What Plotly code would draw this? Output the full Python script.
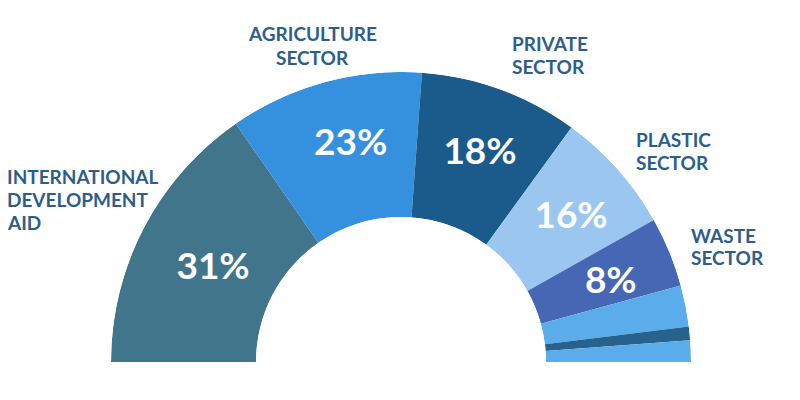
import plotly.graph_objects as go

# Categories (outer labels) and slice shares (% of the half ring)
categories = ["INTERNATIONAL DEVELOPMENT AID", "AGRICULTURE SECTOR", "PRIVATE SECTOR",
              "PLASTIC SECTOR", "WASTE SECTOR", "OTHER A", "OTHER B", "OTHER C"]
label_lines = [["INTERNATIONAL", "DEVELOPMENT", "AID"], ["AGRICULTURE", "SECTOR"],
               ["PRIVATE", "SECTOR"], ["PLASTIC", "SECTOR"], ["WASTE", "SECTOR"]]
shares = [30.7, 21.6, 17.7, 13.7, 7.8, 4.6, 1.5, 2.4]
pct_labels = ["31%", "23%", "18%", "16%", "8%"]
colors = ["#41758C", "#3591DD", "#1A5B8C", "#9AC6F0", "#4567B4", "#5AACEA", "#27628F", "#5AACEA"]

total = sum(shares)
widths = [s / total * 180 for s in shares]
centers = []
acc = 0
for w in widths:
    centers.append(acc + w / 2)
    acc += w

# label styling: radial position and small angular nudge of the percent labels
pct_r = [0.445, 0.53, 0.53, 0.535, 0.545]
pct_dtheta = [-1.4, 2.2, 0.8, 1.5, 1.8]

W, H = 800, 400
ML, MR, MT, MB = 103, 117, 64, 46
PW, PH = W - ML - MR, H - MT - MB

fig = go.Figure()
fig.add_trace(go.Barpolar(
    r=[1] * len(shares), theta=centers, width=widths,
    marker=dict(color=colors, line=dict(width=0)),
    hovertext=categories, hoverinfo="text",
    showlegend=False,
))
fig.add_trace(go.Scatterpolar(
    r=pct_r, theta=[c + d for c, d in zip(centers, pct_dtheta)],
    mode="text", text=pct_labels,
    textfont=dict(family="Lato", size=37, color="white", weight="bold"),
    textposition="middle center", hoverinfo="skip", showlegend=False,
))

fig.update_layout(
    width=W, height=H,
    margin=dict(l=ML, r=MR, t=MT, b=MB, pad=0),
    paper_bgcolor="white",
    polar=dict(
        sector=[0, 180], hole=0.5, bgcolor="white",
        domain=dict(x=[0, 1], y=[0, 1]),
        radialaxis=dict(range=[0, 1], visible=False, showgrid=False),
        angularaxis=dict(rotation=180, direction="clockwise", visible=False, showgrid=False),
    ),
)

lab_font = dict(family="Lato", size=19, color="#2D5E8B", weight="bold")
LINE = 23
# Outer category labels: (x, first-line y, alignment) in picture pixels
label_pos = [
    (-3, 168.5, "left"),
    (304, 26, "center"),
    (502, 35.5, "left"),
    (626, 131, "left"),
    (681, 227, "left"),
]
for (x, y, al), lines in zip(label_pos, label_lines):
    for i, line in enumerate(lines):
        fig.add_annotation(
            x=(x - ML) / PW, y=(H - MB - (y + i * LINE)) / PH, xref="paper", yref="paper",
            text=line, showarrow=False, align=al,
            xanchor="left" if al == "left" else "center", yanchor="middle",
            font=lab_font,
        )

fig.write_html("out.html")
